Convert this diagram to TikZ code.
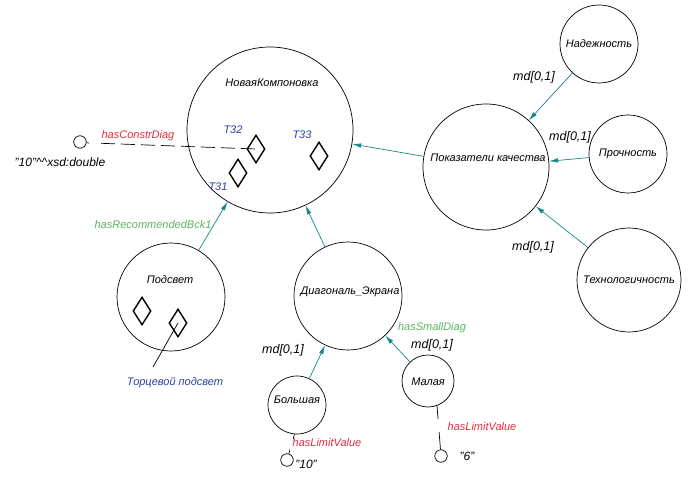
\documentclass[tikz,border=0pt]{standalone}
\usepackage{fontspec}
\setmainfont{Liberation Sans}
\usetikzlibrary{arrows.meta,shapes.geometric}
\definecolor{arrc}{RGB}{20,135,135}
\definecolor{redl}{RGB}{225,45,60}
\definecolor{greenl}{RGB}{90,180,95}
\definecolor{bluel}{RGB}{45,65,155}
\begin{document}
\begin{tikzpicture}[x=1pt,y=-1pt,
  every node/.style={font=\fontsize{11}{13}\selectfont\itshape},
  cls/.style={circle,draw,line width=0.7pt,inner sep=0pt},
  val/.style={circle,draw,line width=0.7pt,inner sep=0pt,minimum size=12.5pt},
  inst/.style={diamond,draw,line width=1.4pt,inner sep=0pt,minimum width=18pt,minimum height=28pt},
  arr/.style={draw=arrc,line width=0.7pt,-{Latex[length=9pt,width=4.5pt]}},
  mdl/.style={font=\fontsize{12.5}{14}\selectfont\itshape},
  redlbl/.style={text=redl},
  greenlbl/.style={text=greenl},
  bluelbl/.style={text=bluel},
  gap/.style={fill=white,inner sep=0pt,minimum width=3pt,minimum height=13pt}
]
\useasboundingbox (0,0) rectangle (693,484);

% classes
\node[cls,minimum size=166pt] (nk) at (270,130) {};
\node (nkt) at (272,83) {НоваяКомпоновка};
\node[cls,minimum size=126pt] (pk) at (486,167) {};
\node (pkt) at (488,158) {Показатели качества};
\node[cls,minimum size=78pt] (nad) at (599,44) {Надежность};
\node[cls,minimum size=78pt] (pro) at (628,154) {Прочность};
\node[cls,minimum size=104pt] (teh) at (629,280) {Технологичность};
\node[cls,minimum size=108pt] (pod) at (171,297) {};
\node (podt) at (170,280) {Подсвет};
\node[cls,minimum size=108pt] (diag) at (348,296) {};
\node (diagt) at (350,292) {Диагональ\_Экрана};
\node[cls,minimum size=58pt] (bol) at (297,405) {};
\node (bolt) at (297,400) {Большая};
\node[cls,minimum size=52pt] (mal) at (428,381) {};
\node (malt) at (428,382) {Малая};

% instances
\node[inst] (t32) at (256,149) {};
\node[inst] (t31) at (238,173) {};
\node[inst] (t33) at (319,156) {};
\node[bluelbl] (t32l) at (233,130) {T32};
\node[bluelbl] (t33l) at (302,135) {T33};
\node[bluelbl] (t31l) at (218,187) {T31};
\node[inst] (pd1) at (142,311) {};
\node[inst] (pd2) at (178,323) {};
\coordinate (torcend) at (153,367);
\node[bluelbl] (torc) at (175,383) {Торцевой подсвет};
\draw[line width=0.7pt] (pd2.center) -- (torcend);

% values
\node[val] (vd) at (80,142) {};
\node[font=\fontsize{12}{14}\selectfont\itshape] (vdt) at (60,162) {"10"\textasciicircum\textasciicircum xsd:double};
\coordinate (stub) at (89,143);
\coordinate (dstart) at (101,143.3);
\draw[line width=0.7pt] (vd) -- (stub);
\draw[line width=0.7pt,dash pattern=on 14pt off 6pt] (dstart) -- (t32.center);
\node[redlbl] (hcd) at (138,136) {hasConstrDiag};

\node[val] (v10) at (287,460) {};
\node[font=\fontsize{12}{14}\selectfont\itshape] (v10t) at (306,464) {"10"};
\node[val] (v6) at (441,456) {};
\node[font=\fontsize{12}{14}\selectfont\itshape] (v6t) at (467,456) {"6"};
\draw[line width=0.7pt] (bol.265) -- node[gap,pos=0.55]{} (v10);
\node[redlbl] (hlv1) at (327,443) {hasLimitValue};
\draw[line width=0.7pt] (mal.290) -- node[gap,pos=0.45]{} (v6);
\node[redlbl] (hlv2) at (482,427) {hasLimitValue};

% arrows
\draw[arr] (pod) -- (nk);
\node[greenlbl] (hrb) at (153,225) {hasRecommendedBck1};
\draw[arr] (diag) -- (nk);
\draw[arr] (pk) -- (nk);
\draw[arr] (nad) -- (pk);
\node[mdl] (md1) at (534,77) {md[0,1]};
\draw[arr] (pro) -- (pk);
\node[mdl] (md2) at (570,137) {md[0,1]};
\draw[arr] (teh) -- (pk);
\node[mdl] (md3) at (533,247) {md[0,1]};
\draw[arr] (bol) -- (diag);
\node[mdl] (md4) at (283,350) {md[0,1]};
\draw[arr] (mal) -- (diag);
\node[mdl] (md5) at (432,345) {md[0,1]};
\node[greenlbl] (hsd) at (432,328) {hasSmallDiag};
\end{tikzpicture}
\end{document}
